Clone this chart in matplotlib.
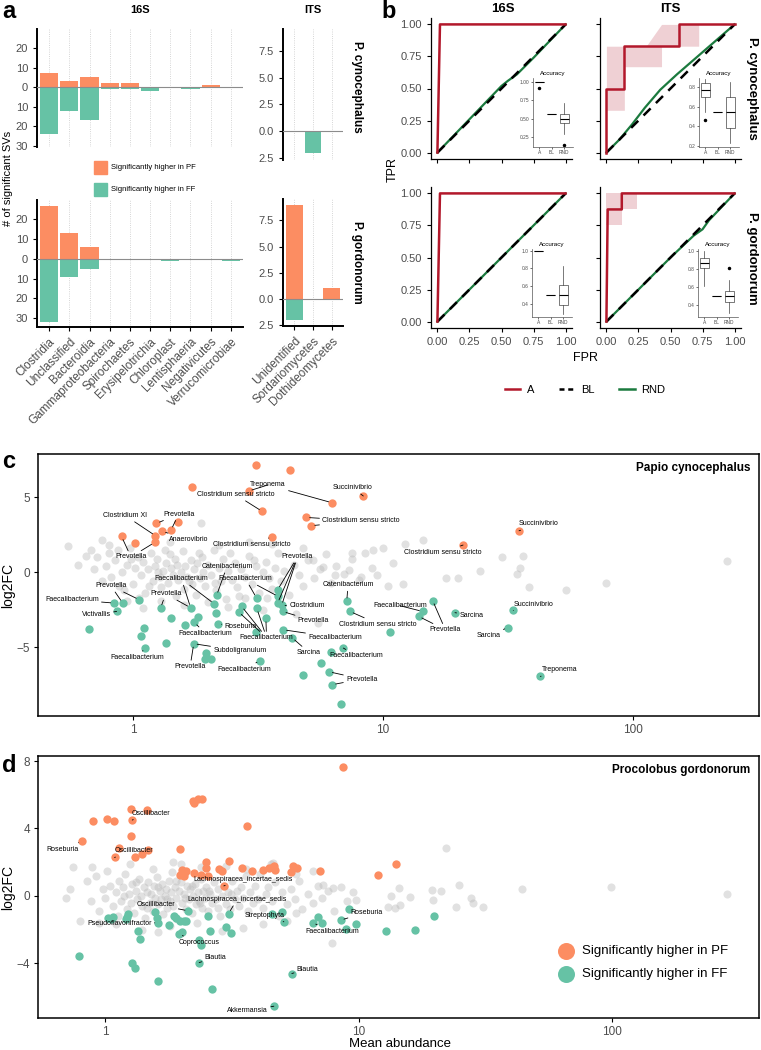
import numpy as np
import matplotlib
matplotlib.use("Agg")
import matplotlib.pyplot as plt
from matplotlib.patches import Rectangle
from matplotlib.lines import Line2D
from matplotlib.ticker import FuncFormatter, NullLocator

plt.rcParams['font.family'] = ['Liberation Sans', 'DejaVu Sans']

PF = '#FC8D62'
FF = '#66C2A5'
A_RED = '#B2182B'
RND_GREEN = '#1B7A3E'
TICK = '#4D4D4D'
W, H = 761, 1050

# ---------------- panel a: significant SVs per class ----------------
classes_16s = ['Clostridia', 'Unclassified', 'Bacteroidia', 'Gammaproteobacteria', 'Spirochaetes',
               'Erysipelotrichia', 'Chloroplast', 'Lentisphaeria', 'Negativicutes', 'Verrucomicrobiae']
cyno_16s_pf = [7, 3, 5, 2, 2, 0, 0, 0, 1, 0]
cyno_16s_ff = [24, 12, 17, 1, 1, 2, 0, 1, 0, 0]
gord_16s_pf = [27, 13, 6, 0, 0, 0, 0, 0, 0, 0]
gord_16s_ff = [32, 9, 5, 0, 0, 0, 1, 0, 0, 1]
classes_its = ['Unidentified', 'Sordariomycetes', 'Dothideomycetes']
cyno_its_pf = [0, 0, 0]
cyno_its_ff = [0, 2, 0]
gord_its_pf = [9, 0, 1]
gord_its_ff = [2, 0, 0]

# ---------------- panel b: ROC curves + accuracy boxes ----------------
roc_tl_a = ([0, 0.02, 1], [0, 1, 1])
roc_tl_rnd = ([0, 0.25, 0.5, 0.55, 0.62, 0.75, 1], [0, 0.26, 0.52, 0.56, 0.61, 0.74, 1])
roc_tr_a = ([0, 0, 0.14, 0.14, 0.57, 0.57, 1], [0, 0.5, 0.5, 0.83, 0.83, 1, 1])
roc_tr_band = ([0, 0.14, 0.14, 0.31, 0.43, 0.43, 0.72],
               [0.33, 0.33, 0.67, 0.67, 0.67, 0.83, 0.83],
               [0.83, 0.83, 0.83, 0.83, 1, 1, 1])
roc_tr_rnd = ([0, 0.1, 0.2, 0.3, 0.42, 0.55, 0.7, 0.85, 1], [0, 0.1, 0.22, 0.35, 0.49, 0.61, 0.74, 0.87, 1])
roc_bl_a = ([0, 0.02, 1], [0, 1, 1])
roc_bl_rnd = ([0, 1], [0, 1])
roc_br_a = ([0, 0.01, 0.12, 0.12, 1], [0, 0.875, 0.875, 1, 1])
roc_br_band = ([0, 0.12, 0.12, 0.24], [0.75, 0.75, 0.875, 0.875], [1, 1, 1, 1])
roc_br_rnd = ([0, 0.5, 0.68, 0.75, 0.8, 1], [0, 0.5, 0.67, 0.72, 0.79, 1])
baseline = ([0, 1], [0, 1])

# accuracy boxes: (q1, med, q3, whislo, whishi, fliers) for A, BL, RND
acc_tl = [(1.0, 1.0, 1.0, 1.0, 1.0, [0.92]), (0.57, 0.57, 0.57, 0.57, 0.57, []),
          (0.44, 0.50, 0.57, 0.29, 0.71, [0.15])]
acc_tr = [(0.70, 0.77, 0.84, 0.55, 0.88, [0.46]), (0.54, 0.54, 0.54, 0.54, 0.54, []),
          (0.38, 0.54, 0.70, 0.23, 0.85, [])]
acc_bl = [(1.0, 1.0, 1.0, 1.0, 1.0, []), (0.50, 0.50, 0.50, 0.50, 0.50, []),
          (0.39, 0.50, 0.61, 0.28, 0.83, [])]
acc_br = [(0.81, 0.87, 0.93, 0.62, 1.0, []), (0.50, 0.50, 0.50, 0.50, 0.50, []),
          (0.44, 0.50, 0.56, 0.31, 0.68, [0.82])]

# ---------------- panel c: Papio cynocephalus ----------------
c_gray = [(0.55, 1.75), (0.68, 1.44), (0.75, 2.15), (0.80, 1.77), (0.60, 0.5), (0.65, 1.1), (0.70, 0.2),
          (0.72, 1.0), (0.75, -0.6), (0.78, 0.4), (0.80, 1.3), (0.82, -0.3), (0.85, 0.8), (0.87, 1.5),
          (0.90, 0.0), (0.92, -1.2), (0.95, 0.5), (0.97, 1.6), (1.00, -0.8), (1.02, 0.3), (1.05, 1.0),
          (1.08, -0.2), (1.10, 0.7), (1.12, -1.4), (1.15, 0.2), (1.18, 1.3), (1.20, -0.6), (1.22, 0.4),
          (1.25, 0.9), (1.28, -0.3), (1.30, -1.0), (1.32, 0.1), (1.35, 0.6), (1.38, -0.7), (1.40, 1.2),
          (1.42, 0.3), (1.45, -0.2), (1.48, -1.6), (1.50, 0.5), (1.52, -0.5), (1.55, 0.0), (1.58, 1.4),
          (1.60, -1.1), (1.62, 0.4), (1.65, -0.3), (1.70, 0.8), (1.72, -0.8), (1.75, 0.2), (1.78, -1.5),
          (1.80, 0.6), (1.85, -0.4), (1.88, 1.0), (1.90, 0.0), (1.95, -0.9), (2.00, 0.5), (2.05, -0.2),
          (2.10, 1.5), (2.15, -1.2), (2.20, 0.3), (2.25, -0.6), (2.30, 0.9), (2.35, -1.8), (2.40, 0.1),
          (2.50, -0.5), (2.55, 0.6), (2.60, -1.0), (2.70, 0.2), (2.80, -0.3), (2.90, 1.1), (3.00, -0.8),
          (3.10, 0.4), (3.20, -1.4), (3.30, 0.0), (3.40, 0.7), (3.50, -0.4), (3.60, -1.1), (3.70, 0.3),
          (3.80, 1.3), (3.90, -0.6), (4.00, 0.1), (4.20, -1.5), (4.40, 0.5), (4.60, -0.2), (4.80, -0.9),
          (5.00, 0.8), (5.30, -0.4), (5.60, 0.2), (5.90, 1.2), (6.20, -0.7), (6.50, 0.4), (7.00, -0.1),
          (7.50, 0.9), (8.00, -0.5), (8.50, 1.3), (9.00, 0.3), (9.50, -0.2), (10.0, 1.6), (11.0, 0.6),
          (12.0, -0.8), (1.87, 3.29), (7.5, 1.24), (9.1, 1.44), (8.2, -0.33), (7.3, 0.11), (5.77, 0.31),
          (5.26, 0.82), (6.43, -0.18), (12.2, 1.87), (14.5, 2.13), (29.8, 1.02), (36.2, 1.04),
          (35.2, 0.24), (34.3, -0.13), (24.4, 0.07), (17.9, -0.40), (19.95, -0.38), (10.5, -0.96),
          (38.4, -1.03), (53.8, -1.20), (78.0, -0.73), (238, 0.73), (1.3, -1.9), (1.6, -2.2),
          (2.0, -2.0), (2.4, -2.3), (2.8, -1.7), (3.3, -2.5), (1.1, -2.4), (0.95, -1.9), (4.5, -2.8),
          (5.5, -3.4), (2.2, 1.8), (2.9, 2.0), (1.4, 2.0), (3.6, 1.9), (4.8, 1.6), (0.98, 0.9),
          (1.16, -0.9), (1.34, 1.5), (1.47, 0.9), (1.68, -0.6), (1.83, 1.3), (2.12, -0.7), (2.45, 1.3),
          (2.65, -1.6), (3.05, 0.8), (3.45, -1.7), (0.88, -0.9), (1.06, -1.7), (1.26, 0.0)]
c_pf = [(3.10, 7.11), (4.25, 6.82), (1.72, 5.69), (2.90, 5.40), (6.25, 4.62), (8.34, 5.07), (3.29, 4.04),
        (4.93, 3.64), (5.17, 3.09), (3.60, 2.35), (1.24, 3.24), (1.42, 2.80), (1.52, 3.31), (1.31, 2.71),
        (1.23, 2.42), (1.22, 1.97), (0.90, 2.37), (1.02, 1.91), (35.0, 2.75), (20.9, 1.80)]
c_ff = [(0.84, -2.07), (0.91, -2.07), (0.86, -2.63), (1.06, -1.85), (0.67, -3.80), (1.29, -2.40),
        (1.42, -3.09), (1.70, -2.38), (1.82, -3.03), (1.76, -3.36), (1.62, -3.56), (2.11, -2.11),
        (2.16, -1.56), (2.15, -2.73), (2.19, -3.45), (2.65, -2.67), (2.72, -2.29), (3.12, -1.73),
        (3.13, -2.43), (3.40, -3.09), (3.10, -4.03), (3.79, -1.18), (3.81, -1.63), (3.79, -2.07),
        (3.93, -2.23), (3.97, -2.63), (3.99, -3.85), (7.16, -1.96), (7.38, -2.63), (1.11, -3.73),
        (1.08, -4.25), (1.12, -5.07), (1.35, -4.73), (1.75, -4.78), (1.96, -5.40), (2.06, -5.80),
        (1.95, -5.80), (3.22, -5.91), (4.77, -6.89), (5.65, -6.07), (6.19, -5.33), (6.94, -5.07),
        (6.08, -6.65), (6.27, -7.51), (6.79, -8.80), (15.8, -1.91), (14.4, -2.63), (13.9, -2.96),
        (19.4, -2.71), (10.7, -4.00), (33.2, -2.56), (31.6, -3.71), (42.6, -6.96), (4.33, -4.38)]
# label text, colour group, target indices
c_labels = [('Treponema', 'pf', [3, 4]), ('Succinivibrio', 'pf', [5]),
            ('Clostridium sensu stricto', 'pf', [6]), ('Clostridium sensu stricto', 'pf', [7, 8]),
            ('Clostridium sensu stricto', 'pf', [9]), ('Clostridium XI', 'pf', [14]),
            ('Prevotella', 'pf', [10, 11]), ('Anaerovibrio', 'pf', [13]), ('Prevotella', 'pf', [15, 16]),
            ('Succinivibrio', 'pf', [18]), ('Clostridium sensu stricto', 'pf', [19]),
            ('Prevotella', 'ff', [1, 3]), ('Faecalibacterium', 'ff', [0]), ('Victivallis', 'ff', [2]),
            ('Prevotella', 'ff', [5, 7]), ('Faecalibacterium', 'ff', [7, 11]),
            ('Catenibacterium', 'ff', [12]), ('Faecalibacterium', 'ff', [17, 22]),
            ('Prevotella', 'ff', [21, 23, 24]), ('Clostridium', 'ff', [24]), ('Prevotella', 'ff', [25]),
            ('Catenibacterium', 'ff', [27]), ('Clostridium sensu stricto', 'ff', [28]),
            ('Roseburia', 'ff', [14]), ('Faecalibacterium', 'ff', [9]),
            ('Faecalibacterium', 'ff', [15, 16, 18, 19]), ('Faecalibacterium', 'ff', [26]),
            ('Faecalibacterium', 'ff', [46]), ('Prevotella', 'ff', [45, 47]), ('Sarcina', 'ff', [48]),
            ('Succinivibrio', 'ff', [50]), ('Sarcina', 'ff', [51]), ('Treponema', 'ff', [52]),
            ('Faecalibacterium', 'ff', [31]), ('Subdoligranulum', 'ff', [33]), ('Prevotella', 'ff', [33]),
            ('Faecalibacterium', 'ff', [37]), ('Sarcina', 'ff', [53]), ('Faecalibacterium', 'ff', [41]),
            ('Prevotella', 'ff', [42, 43])]
# label placement (axes fraction), layout only
c_label_pos = [(0.319, 0.882), (0.436, 0.871), (0.274, 0.845), (0.448, 0.745), (0.297, 0.655),
               (0.121, 0.765), (0.195, 0.770), (0.209, 0.674), (0.129, 0.607), (0.694, 0.733),
               (0.562, 0.625), (0.101, 0.497), (0.047, 0.444), (0.081, 0.388), (0.177, 0.466),
               (0.199, 0.523), (0.262, 0.570), (0.288, 0.523), (0.360, 0.608), (0.373, 0.421),
               (0.382, 0.363), (0.430, 0.500), (0.472, 0.351), (0.281, 0.341), (0.232, 0.316),
               (0.317, 0.299), (0.412, 0.300), (0.502, 0.421), (0.565, 0.329), (0.601, 0.384),
               (0.688, 0.427), (0.625, 0.309), (0.724, 0.176), (0.137, 0.224), (0.280, 0.249),
               (0.211, 0.189), (0.286, 0.179), (0.376, 0.242), (0.442, 0.230), (0.449, 0.141)]

# ---------------- panel d: Procolobus gordonorum ----------------
d_gray = [(0.73, 0.38), (0.89, 1.72), (1.85, 2.02), (4.60, 1.96), (1.62, -2.14), (6.62, 1.47), (7.21, 0.64),
          (7.93, 0.44), (9.72, -0.26), (7.82, -2.77), (5.65, 1.27), (5.65, -1.01), (22.2, 2.82),
          (14.4, 0.48), (13.4, 0.02), (15.9, -0.06), (19.5, 0.32), (21.2, 0.28), (24.8, 0.64),
          (19.7, -0.26), (27.7, -0.15), (28.2, -0.45), (24.3, -0.67), (31.0, -0.67), (13.1, -0.65),
          (13.9, -0.71), (14.6, -0.53), (44.2, 0.40), (99.1, 0.52), (284, 0.10),
          (0.80, -1.5), (0.85, 0.9), (0.88, -0.3), (0.92, 1.2), (0.95, -0.9), (0.98, 0.4), (1.00, -0.1),
          (1.02, 1.5), (1.05, 0.6), (1.07, -0.6), (1.10, 0.2), (1.12, -1.2), (1.14, 0.9), (1.16, -0.3),
          (1.18, 0.5), (1.20, 1.3), (1.22, -0.8), (1.24, 0.1), (1.26, -0.4), (1.28, 0.7), (1.30, -1.0),
          (1.32, 0.3), (1.34, -0.2), (1.36, 1.0), (1.38, 0.0), (1.40, -0.6), (1.42, 0.5), (1.44, -1.3),
          (1.46, 0.2), (1.48, 0.8), (1.50, -0.4), (1.52, 0.1), (1.54, -0.9), (1.56, 0.6), (1.58, -0.1),
          (1.60, 1.1), (1.62, -0.5), (1.64, 0.3), (1.66, -0.2), (1.68, 0.7), (1.70, -1.1), (1.72, 0.0),
          (1.74, 0.4), (1.76, -0.7), (1.78, 0.9), (1.80, -0.3), (1.82, 0.2), (1.84, 1.4), (1.86, -0.6),
          (1.88, 0.5), (1.90, -0.1), (1.93, -1.4), (1.96, 0.3), (1.99, 0.8), (2.02, -0.4), (2.05, 0.1),
          (2.08, -0.8), (2.11, 0.6), (2.14, -0.2), (2.17, 0.4), (2.20, -1.0), (2.23, 0.0), (2.26, 0.7),
          (2.29, -0.5), (2.32, 0.2), (2.35, -0.3), (2.38, 1.0), (2.41, -0.7), (2.44, 0.3), (2.47, -0.1),
          (2.50, 0.5), (2.55, -0.9), (2.60, 0.1), (2.65, -0.4), (2.70, 0.8), (2.75, -0.2), (2.80, 0.4),
          (2.85, -1.2), (2.90, 0.0), (2.95, 0.6), (3.00, -0.5), (3.06, 0.2), (3.12, -0.8), (3.18, 0.9),
          (3.24, -0.2), (3.30, 0.3), (3.37, -0.6), (3.44, 0.5), (3.51, -0.1), (3.58, 1.2), (3.66, -0.9),
          (3.74, 0.2), (3.82, -0.4), (3.90, 0.6), (4.00, -0.2), (4.10, 1.3), (4.20, -0.7), (4.30, 0.1),
          (4.40, 0.5), (4.55, -0.3), (4.70, 0.8), (4.85, -1.2), (5.00, 0.2), (5.20, -0.5), (5.40, 0.4),
          (5.60, -0.2), (5.80, 0.9), (6.00, -0.8), (6.30, 0.1), (6.60, -0.4), (6.90, 0.6), (7.20, -0.1),
          (7.60, 0.3), (8.00, -0.9), (8.50, 0.5), (9.00, -0.3), (9.50, 0.2), (0.75, 1.7), (1.25, 1.9),
          (1.55, 1.6), (2.0, 1.9), (2.4, 1.7), (3.0, 1.8), (3.6, 1.6), (4.5, 1.9), (1.1, -1.7),
          (1.4, -2.0), (1.8, -1.8), (2.3, -1.6), (2.9, -2.1), (3.5, -1.9), (4.2, -1.7), (5.2, -1.5),
          (0.70, -0.1), (0.95, -1.6), (1.19, 0.0), (1.33, 0.8), (1.47, -0.7), (1.61, 0.5), (1.75, -0.2),
          (1.91, 0.9), (2.07, -0.1), (2.21, 0.6), (2.37, -0.4), (2.58, 0.3), (2.78, -0.7), (3.15, 0.1)]
d_pf = [(8.69, 7.63), (2.22, 5.65), (2.25, 5.50), (2.33, 5.72), (2.42, 5.76), (3.62, 4.16), (1.27, 5.13),
        (1.46, 5.09), (1.28, 4.50), (0.90, 4.42), (1.02, 4.54), (1.08, 4.46), (1.27, 3.53), (0.81, 3.23),
        (1.14, 2.83), (1.48, 2.70), (1.40, 2.48), (1.31, 2.28), (1.09, 2.28), (1.98, 2.79), (2.49, 2.02),
        (3.07, 2.08), (2.51, 1.63), (2.01, 1.53), (2.06, 1.43), (2.09, 1.49), (1.98, 1.23), (2.04, 1.17),
        (2.24, 1.37), (2.39, 1.23), (2.55, 1.19), (2.82, 1.57), (2.90, 1.47), (3.48, 1.63), (3.81, 1.47),
        (4.18, 1.53), (4.45, 1.66), (4.61, 1.72), (4.67, 1.53), (4.64, 1.77), (5.52, 1.77), (5.72, 1.66),
        (5.43, 1.39), (7.05, 1.47), (11.9, 1.23), (14.1, 1.90), (2.94, 0.59)]
d_ff = [(0.79, -3.57), (1.03, -1.34), (1.07, -1.25), (1.06, -1.40), (1.22, -1.25), (1.21, -1.38),
        (1.23, -1.09), (1.35, -2.10), (1.37, -2.59), (1.28, -3.98), (1.31, -4.28), (1.62, -5.03),
        (1.57, -0.95), (1.60, -1.34), (1.62, -1.60), (1.78, -1.76), (1.87, -1.17), (1.91, -1.34),
        (1.97, -1.48), (2.04, -1.50), (2.09, -1.48), (2.13, -0.89), (1.96, -2.28), (2.01, -2.16),
        (2.34, -2.63), (2.39, -2.93), (2.55, -1.17), (2.59, -2.10), (2.35, -3.96), (2.64, -5.50),
        (3.00, -1.86), (3.15, -2.23), (3.07, -1.05), (4.55, -1.10), (4.97, -0.95), (5.07, -1.54),
        (5.45, -4.61), (4.63, -6.55), (6.92, -1.25), (6.58, -1.60), (7.14, -1.64), (8.49, -1.44),
        (8.91, -1.94), (9.75, -1.70), (9.18, -0.77), (19.9, -1.21), (12.8, -2.10), (16.7, -2.04)]
d_labels = [('Oscillibacter', 'pf', [8]), ('Roseburia', 'pf', [13]), ('Oscillibacter', 'pf', [18]),
            ('Lachnospiracea_incertae_sedis', 'pf', [46]), ('Lachnospiracea_incertae_sedis', 'ff', [32]),
            ('Oscillibacter', 'ff', [21]), ('Pseudoflavonifractor', 'ff', [14]), ('Coprococcus', 'ff', [22]),
            ('Blautia', 'ff', [28]), ('Streptophyta', 'ff', [35]), ('Blautia', 'ff', [36]),
            ('Akkermansia', 'ff', [37]), ('Faecalibacterium', 'ff', [39]), ('Roseburia', 'ff', [41])]
d_label_pos = [(0.157, 0.781), (0.034, 0.645), (0.133, 0.638), (0.284, 0.530), (0.276, 0.452),
               (0.164, 0.433), (0.113, 0.361), (0.223, 0.289), (0.246, 0.231), (0.315, 0.392),
               (0.374, 0.187), (0.291, 0.027), (0.408, 0.332), (0.456, 0.403)]
legend_labels = ['Significantly higher in PF', 'Significantly higher in FF']

fig = plt.figure(figsize=(W / 100, H / 100), dpi=100)


def px_axes(x0, y0, x1, y1):
    return fig.add_axes([x0 / W, 1 - y1 / H, (x1 - x0) / W, (y1 - y0) / H])


def ftext(x, y, s, **kw):
    fig.text(x / W, 1 - y / H, s, **kw)


def bar_panel(ax, cats, pf, ff, ylim, yticks, fmt, show_x):
    idx = np.arange(len(cats))
    ax.bar(idx, pf, 0.9, color=PF, zorder=2)
    ax.bar(idx, -np.array(ff), 0.9, color=FF, zorder=2)
    ax.axhline(0, color='#8c8c8c', lw=0.8, zorder=3)
    ax.set_xlim(-0.6, len(cats) - 0.4)
    ax.set_ylim(*ylim)
    ax.set_xticks(idx)
    ax.grid(axis='x', ls=':', color='#c8c8c8', lw=0.6)
    ax.set_axisbelow(True)
    ax.set_yticks(yticks)
    ax.yaxis.set_major_formatter(FuncFormatter(lambda v, p: fmt.format(abs(v))))
    ax.tick_params(axis='y', labelsize=8, labelcolor=TICK, length=3, width=0.8)
    for s in ('top', 'right'):
        ax.spines[s].set_visible(False)
    ax.spines['left'].set_linewidth(1.4)
    if show_x:
        ax.spines['bottom'].set_linewidth(1.4)
        ax.set_xticklabels(cats, rotation=45, ha='right', rotation_mode='anchor')
        ax.tick_params(axis='x', labelsize=8.5, labelcolor=TICK, length=3, width=0.8)
    else:
        ax.spines['bottom'].set_visible(False)
        ax.tick_params(axis='x', length=0, labelbottom=False)


ax = px_axes(37, 29, 243, 147)
bar_panel(ax, classes_16s, cyno_16s_pf, cyno_16s_ff, (-30.6, 29.7), [-30, -20, -10, 0, 10, 20], '{:.0f}', False)
ax = px_axes(37, 200, 243, 327)
bar_panel(ax, classes_16s, gord_16s_pf, gord_16s_ff, (-34.6, 29.9), [-30, -20, -10, 0, 10, 20], '{:.0f}', True)
ax = px_axes(283, 29, 343, 160)
bar_panel(ax, classes_its, cyno_its_pf, cyno_its_ff, (-2.7, 9.55), [-2.5, 0, 2.5, 5, 7.5], '{:.1f}', False)
ax = px_axes(283, 199, 343, 326)
bar_panel(ax, classes_its, gord_its_pf, gord_its_ff, (-2.6, 9.55), [-2.5, 0, 2.5, 5, 7.5], '{:.1f}', True)

ftext(140, 10, '16S', ha='center', va='center', fontsize=8, weight='bold')
ftext(313, 10, 'ITS', ha='center', va='center', fontsize=8, weight='bold')
ftext(357, 87, 'P. cynocephalus', rotation=-90, ha='center', va='center', fontsize=8.5, weight='bold')
ftext(357, 262, 'P. gordonorum', rotation=-90, ha='center', va='center', fontsize=8.5, weight='bold')
ftext(8, 178, '# of significant SVs', rotation=90, ha='center', va='center', fontsize=8)
for yc, col, lab in [(167.5, PF, legend_labels[0]), (189.5, FF, legend_labels[1])]:
    fig.patches.append(Rectangle((94 / W, 1 - (yc + 6.5) / H), 13 / W, 13 / H, color=col,
                                 transform=fig.transFigure, figure=fig))
    ftext(111, yc, lab, ha='left', va='center', fontsize=5.5)


# ---------------- panel b ----------------
def roc_panel(ax, a, rnd, band, xlab, ylab):
    if band is not None:
        ax.fill_between(band[0], band[1], band[2], color=A_RED, alpha=0.2, lw=0)
    ax.plot(rnd[0], rnd[1], color=RND_GREEN, lw=1.6)
    ax.plot(baseline[0], baseline[1], color='black', lw=1.8, ls=(0, (4, 3)))
    ax.plot(a[0], a[1], color=A_RED, lw=1.8)
    ax.set_xlim(-0.05, 1.05)
    ax.set_ylim(-0.05, 1.05)
    ticks = [0, 0.25, 0.5, 0.75, 1.0]
    ax.set_xticks(ticks)
    ax.set_yticks(ticks)
    ax.xaxis.set_major_formatter(FuncFormatter(lambda v, p: f'{v:.2f}'))
    ax.yaxis.set_major_formatter(FuncFormatter(lambda v, p: f'{v:.2f}'))
    ax.tick_params(labelsize=8, labelcolor=TICK, length=3, width=0.8,
                   labelbottom=xlab, labelleft=ylab)
    for s in ('top', 'right'):
        ax.spines[s].set_visible(False)
    for s in ('left', 'bottom'):
        ax.spines[s].set_linewidth(0.9)


def acc_inset(rect, stats, ylim, yticks, fmt):
    ax = px_axes(*rect)
    bx = [dict(q1=q1, med=m, q3=q3, whislo=lo, whishi=hi, fliers=fl, label=lab)
          for (q1, m, q3, lo, hi, fl), lab in zip(stats, ['A', 'BL', 'RND'])]
    ax.bxp(bx, widths=0.7, patch_artist=True,
           boxprops=dict(facecolor='white', edgecolor='#444444', lw=0.5),
           medianprops=dict(color='black', lw=0.8),
           whiskerprops=dict(color='#444444', lw=0.5), capprops=dict(lw=0),
           flierprops=dict(marker='o', markersize=1.5, markerfacecolor='black', markeredgecolor='black'))
    ax.set_xlim(0.5, 3.7)
    ax.set_ylim(*ylim)
    ax.set_yticks(yticks)
    ax.yaxis.set_major_formatter(FuncFormatter(lambda v, p: fmt.format(v)))
    ax.tick_params(labelsize=3.5, labelcolor=TICK, length=1.5, width=0.4, pad=1)
    ax.patch.set_alpha(0)
    for s in ('top', 'right'):
        ax.spines[s].set_visible(False)
    for s in ('left', 'bottom'):
        ax.spines[s].set_linewidth(0.5)
        ax.spines[s].set_color('#555555')
    ax.set_title('Accuracy', fontsize=4.5, pad=2)


ax = px_axes(431, 18, 572, 159)
roc_panel(ax, roc_tl_a, roc_tl_rnd, None, False, True)
ax = px_axes(600, 18, 741, 159)
roc_panel(ax, roc_tr_a, roc_tr_rnd, roc_tr_band, False, False)
ax = px_axes(431, 187, 572, 328)
roc_panel(ax, roc_bl_a, roc_bl_rnd, None, True, True)
ax = px_axes(600, 187, 741, 328)
roc_panel(ax, roc_br_a, roc_br_rnd, roc_br_band, True, False)

acc_inset((533, 78, 573, 147), acc_tl, (0.12, 1.05), [0.25, 0.5, 0.75, 1.0], '{:.2f}')
acc_inset((699, 78, 739, 147), acc_tr, (0.19, 0.89), [0.2, 0.4, 0.6, 0.8], '{:.1f}')
acc_inset((532, 249, 572, 317), acc_bl, (0.25, 1.02), [0.4, 0.6, 0.8, 1.0], '{:.1f}')
acc_inset((698, 249, 738, 317), acc_br, (0.27, 1.026), [0.4, 0.6, 0.8, 1.0], '{:.1f}')

ftext(503, 9, '16S', ha='center', va='center', fontsize=9.5, weight='bold')
ftext(670, 9, 'ITS', ha='center', va='center', fontsize=9.5, weight='bold')
ftext(752, 88, 'P. cynocephalus', rotation=-90, ha='center', va='center', fontsize=9.5, weight='bold')
ftext(752, 258, 'P. gordonorum', rotation=-90, ha='center', va='center', fontsize=9.5, weight='bold')
ftext(393, 170, 'TPR', rotation=90, ha='center', va='center', fontsize=9)
ftext(585, 358, 'FPR', ha='center', va='center', fontsize=9)
handles = [Line2D([], [], color=A_RED, lw=1.8), Line2D([], [], color='black', lw=1.8, ls=(0, (2, 1.5))),
           Line2D([], [], color=RND_GREEN, lw=1.8)]
fig.legend(handles, ['A', 'BL', 'RND'], loc='center', bbox_to_anchor=(585 / W, 1 - 390 / H), ncol=3,
           frameon=False, fontsize=8, handlelength=1.4, columnspacing=2.2, handletextpad=0.6)


# ---------------- panels c, d ----------------
def scatter_panel(ax, gray, pf, ff, labels, label_pos, xlim, ylim, yticks, title):
    ax.set_xscale('log')
    gx, gy = zip(*gray)
    ax.scatter(gx, gy, s=34, color='#BDBDBD', alpha=0.45, lw=0, zorder=2)
    px_, py_ = zip(*pf)
    fx_, fy_ = zip(*ff)
    ax.scatter(px_, py_, s=36, color=PF, lw=0, zorder=3)
    ax.scatter(fx_, fy_, s=36, color=FF, lw=0, zorder=3)
    groups = {'pf': (px_, py_), 'ff': (fx_, fy_)}
    for (text, grp, targets), (tx, ty) in zip(labels, label_pos):
        xs, ys = groups[grp]
        for k, i in enumerate(targets):
            ax.annotate(text, xy=(xs[i], ys[i]), xytext=(tx, ty), textcoords='axes fraction',
                        fontsize=5, ha='center', va='center', color='black' if k == 0 else 'none',
                        arrowprops=dict(arrowstyle='-', color='black', lw=0.6, shrinkA=0, shrinkB=2.5),
                        zorder=4)
    ax.set_xlim(*xlim)
    ax.set_ylim(*ylim)
    ax.set_xticks([1, 10, 100], ['1', '10', '100'])
    ax.xaxis.set_minor_locator(NullLocator())
    ax.set_yticks(yticks, [str(t).replace('-', '\u2212') for t in yticks])
    ax.tick_params(labelsize=8.5, labelcolor=TICK, length=3, width=0.8, pad=2.5)
    for s in ax.spines.values():
        s.set_linewidth(1.1)
    ax.set_ylabel('log2FC', fontsize=10)
    ax.yaxis.set_label_coords(-0.032, 0.5)
    ax.text(0.988, 0.947, title, transform=ax.transAxes, ha='right', va='center', fontsize=8.5,
            weight='bold')


ax = px_axes(38, 454, 759, 716)
scatter_panel(ax, c_gray, c_pf, c_ff, c_labels, c_label_pos, (0.417, 319), (-9.6, 7.87), [-5, 0, 5],
              'Papio cynocephalus')
ax = px_axes(38, 756, 759, 1018)
scatter_panel(ax, d_gray, d_pf, d_ff, d_labels, d_label_pos, (0.544, 379), (-7.25, 8.3), [-4, 0, 4, 8],
              'Procolobus gordonorum')
ax.set_xlabel('Mean abundance', fontsize=9.5)
ax.xaxis.set_label_coords(0.502, -0.076)
for fy, col, lab in [(0.256, PF, legend_labels[0]), (0.167, FF, legend_labels[1])]:
    ax.scatter([0.732], [fy], s=150, color=col, lw=0, transform=ax.transAxes, clip_on=False, zorder=5)
    ax.text(0.754, fy, lab, transform=ax.transAxes, ha='left', va='center', fontsize=9.5)

ftext(2, 12, 'a', fontsize=17, weight='bold', va='center')
ftext(381, 12, 'b', fontsize=17, weight='bold', va='center')
ftext(2, 462, 'c', fontsize=17, weight='bold', va='center')
ftext(2, 765, 'd', fontsize=17, weight='bold', va='center')

fig.savefig('out.png', dpi=100)
